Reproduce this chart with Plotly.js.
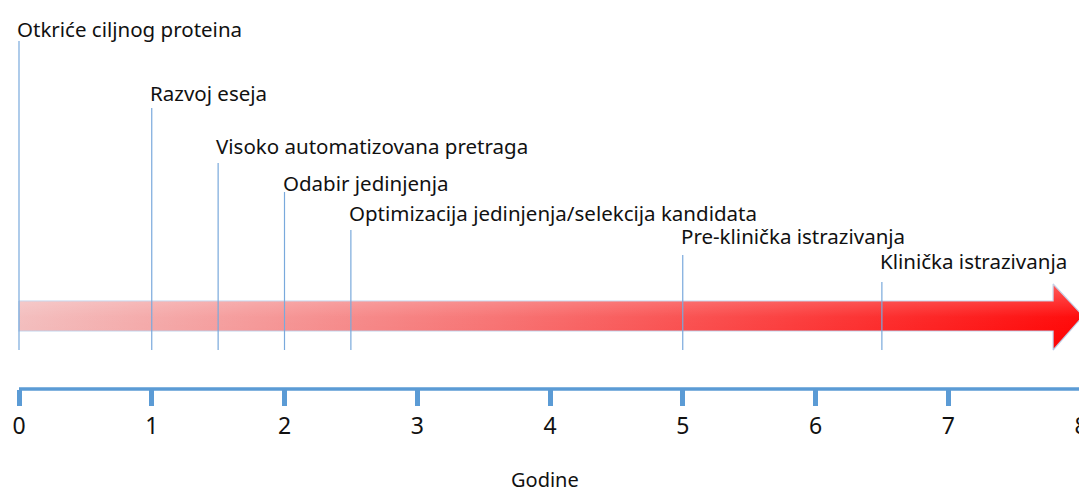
<!DOCTYPE html>
<html><head><meta charset="utf-8">
<script src="https://cdn.plot.ly/plotly-3.0.1.min.js"></script>
<style>html,body{margin:0;padding:0;overflow:hidden;background:#fff}</style>
</head><body><div id="chart"></div>
<script>
// ---- data ----
const milestoneLabels = ['Otkriće ciljnog proteina', 'Razvoj eseja', 'Visoko automatizovana pretraga',
  'Odabir jedinjenja', 'Optimizacija jedinjenja/selekcija kandidata', 'Pre-klinička istrazivanja', 'Klinička istrazivanja'];
const milestoneYears = [0, 1, 1.5, 2, 2.5, 5, 6.5];
const lineTops = [41, 108, 163, 192, 230, 255, 282];      // stagger level of each marker (y units, top = 0)
const labelBaselines = [36, 100, 153, 190, 220, 243, 268];
const tickValues = [0, 1, 2, 3, 4, 5, 6, 7, 8];
const tickLabels = ['0', '1', '2', '3', '4', '5', '6', '7', '8'];
const axisTitle = 'Godine';

// ---- layout constants ----
const W = 1090, H = 492, PX_PER_YEAR = 132.75, X0PX = 19, PLOT_H = 389;
const lineBottom = 350;
const arrowStart = 0, arrowHeadStart = 7.79, arrowTip = 8.015;
const bodyTop = 301, bodyBottom = 331, headTop = 284, headBottom = 350, arrowMid = 316;
const blue = '#5B9BD5';

const vx = [], vy = [];
milestoneYears.forEach((m, i) => { vx.push(m, m, null); vy.push(lineBottom, lineTops[i], null); });

const arrowX = [arrowStart, arrowHeadStart, arrowHeadStart, arrowTip, arrowHeadStart, arrowHeadStart, arrowStart, arrowStart];
const arrowY = [bodyTop, bodyTop, headTop, arrowMid, headBottom, bodyBottom, bodyBottom, bodyTop];

const traces = [
  {x: arrowX, y: arrowY, type: 'scatter', mode: 'lines', fill: 'toself',
   line: {color: 'rgba(185,205,232,0.9)', width: 1.2},
   fillgradient: {type: 'horizontal', colorscale: [[0, '#f3bcbc'], [0.45, '#f76e6e'], [1, '#ff0000']]},
   hoverinfo: 'skip', showlegend: false},
  {x: arrowX, y: arrowY, type: 'scatter', mode: 'none', fill: 'toself',
   fillgradient: {type: 'vertical', start: headBottom, stop: headTop,
     colorscale: [[0, 'rgba(255,255,255,0)'], [0.5, 'rgba(255,255,255,0.05)'], [1, 'rgba(255,255,255,0.35)']]},
   hoverinfo: 'skip', showlegend: false},
  {x: vx, y: vy, type: 'scatter', mode: 'lines', line: {color: '#79a9dc', width: 1.2},
   hoverinfo: 'skip', showlegend: false}
];

const annotations = milestoneLabels.map((t, i) => ({
  x: milestoneYears[i], y: labelBaselines[i], xref: 'x', yref: 'y', text: t, showarrow: false,
  xanchor: 'left', yanchor: 'bottom', xshift: -4, yshift: -9,
  font: {family: 'Noto Sans', size: 20.5, color: '#111'}
}));
annotations.push({
  x: 0.5, y: (PLOT_H - 479) / PLOT_H, xref: 'paper', yref: 'paper', text: axisTitle, showarrow: false,
  xanchor: 'center', yanchor: 'middle', borderpad: 0, font: {family: 'Noto Sans', size: 20, color: '#111'}
});

const shapes = [
  {type: 'line', xref: 'x', yref: 'paper', x0: 0, x1: 9, y0: 0, y1: 0, line: {color: blue, width: 3.5}}
];

const layout = {
  width: W, height: H,
  margin: {l: 0, r: 0, t: 0, b: H - PLOT_H},
  paper_bgcolor: '#fff', plot_bgcolor: '#fff',
  showlegend: false,
  xaxis: {range: [-X0PX / PX_PER_YEAR, (W - X0PX) / PX_PER_YEAR], tickvals: tickValues, ticktext: tickLabels,
    showgrid: false, zeroline: false, showline: false, ticks: 'outside', ticklen: 16, tickwidth: 5, tickcolor: blue,
    tickfont: {family: 'Noto Sans', size: 23, color: '#111'},
    fixedrange: true},
  yaxis: {range: [PLOT_H, 0], visible: false, fixedrange: true},
  annotations: annotations, shapes: shapes
};
Plotly.newPlot('chart', traces, layout, {displayModeBar: false, staticPlot: true});
</script></body></html>
